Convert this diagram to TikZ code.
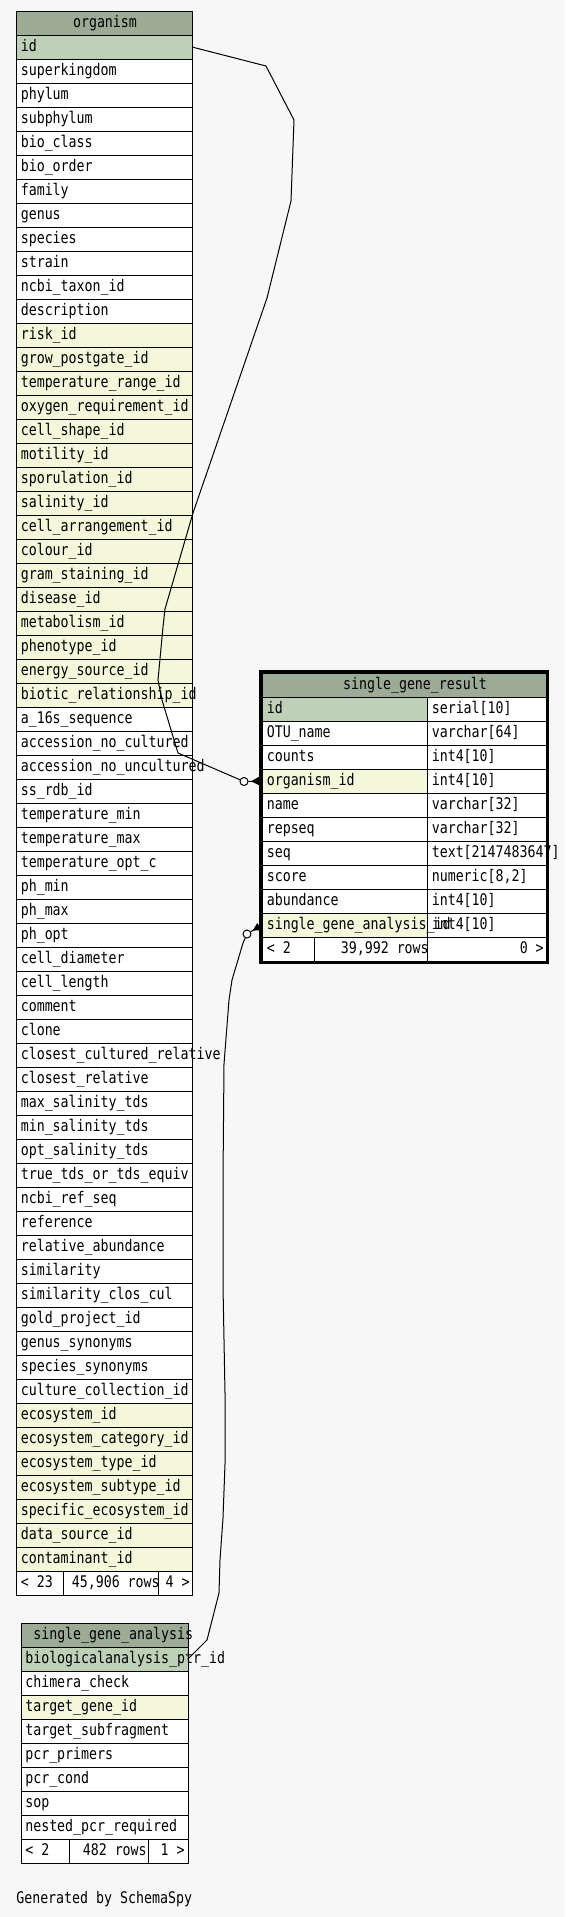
\documentclass[tikz,border=0pt]{standalone}
\usepackage{fontspec}
\newfontfamily\schemafont[FakeStretch=0.83]{DejaVu Sans Mono}
\usetikzlibrary{arrows.meta}
\definecolor{headcolor}{HTML}{9BAB96}
\definecolor{keycolor}{HTML}{BED1B8}
\definecolor{indexcolor}{HTML}{F4F7DA}
\definecolor{bgcolor}{HTML}{F7F7F7}
\begin{document}
\begin{tikzpicture}[x=0.75pt,y=-0.75pt,font=\schemafont\fontsize{12}{14}\selectfont,
    cell/.style={draw,line width=0.75pt,inner sep=0pt,outer sep=0pt,minimum height=18pt,minimum width=#1},
    colname/.style={anchor=base west,inner sep=0pt},
    rcolname/.style={anchor=base east,inner sep=0pt},
    link/.style={line width=0.75pt},
    hollow/.style={circle,draw,fill=white,line width=0.75pt,minimum size=6pt,inner sep=0pt},
    foot/.style={link,-{Triangle[reversed,length=6pt,width=6pt]},shorten >=2.25pt}]
        \fill[bgcolor] (0,0) rectangle (565,1917);
        \node[cell=132pt,fill=headcolor] (org) at (104,23) {};
        \node[anchor=base,inner sep=0pt] at (105,27) {organism};
        \foreach \col [count=\i] in {id,superkingdom,phylum,subphylum,bio\_class,bio\_order,family,genus,species,strain,ncbi\_taxon\_id,description,risk\_id,grow\_postgate\_id,temperature\_range\_id,oxygen\_requirement\_id,cell\_shape\_id,motility\_id,sporulation\_id,salinity\_id,cell\_arrangement\_id,colour\_id,gram\_staining\_id,disease\_id,metabolism\_id,phenotype\_id,energy\_source\_id,biotic\_relationship\_id,a\_16s\_sequence,accession\_no\_cultured,accession\_no\_uncultured,ss\_rdb\_id,temperature\_min,temperature\_max,temperature\_opt\_c,ph\_min,ph\_max,ph\_opt,cell\_diameter,cell\_length,comment,clone,closest\_cultured\_relative,closest\_relative,max\_salinity\_tds,min\_salinity\_tds,opt\_salinity\_tds,true\_tds\_or\_tds\_equiv,ncbi\_ref\_seq,reference,relative\_abundance,similarity,similarity\_clos\_cul,gold\_project\_id,genus\_synonyms,species\_synonyms,culture\_collection\_id,ecosystem\_id,ecosystem\_category\_id,ecosystem\_type\_id,ecosystem\_subtype\_id,specific\_ecosystem\_id,data\_source\_id,contaminant\_id} {
            \def\rowfill{white}
            \ifnum\i=1 \def\rowfill{keycolor}\fi
            \ifnum\i>12 \ifnum\i<29 \def\rowfill{indexcolor}\fi\fi
            \ifnum\i>57 \def\rowfill{indexcolor}\fi
            \node[cell=132pt,fill=\rowfill] (org-\i) at (104,23+24*\i) {};
            \node[colname] at (20.5,27+24*\i) {\col};
        }
        \node[cell=35.25pt,fill=white] (org-f1) at (39.5,1583) {};
        \node[cell=71.25pt,fill=white] (org-f2) at (110.5,1583) {};
        \node[cell=25.5pt,fill=white] (org-f3) at (175,1583) {};
        \node[colname] at (20.5,1587) {< 23};
        \node[rcolname] at (160,1587) {45,906 rows};
        \node[rcolname] at (190,1587) {4 >};
        \node[cell=213pt,fill=headcolor] (sgr) at (404,685) {};
        \node[anchor=base,inner sep=0pt] at (415,689) {single\_gene\_result};
        \foreach \col/\type [count=\i] in {id/serial[10],OTU\_name/varchar[64],counts/int4[10],organism\_id/int4[10],name/varchar[32],repseq/varchar[32],seq/text[2147483647],{score/numeric[8,2]},abundance/int4[10],single\_gene\_analysis\_id/int4[10]} {
            \def\rowfill{white}
            \ifnum\i=1 \def\rowfill{keycolor}\fi
            \ifnum\i=4 \def\rowfill{indexcolor}\fi
            \ifnum\i=10 \def\rowfill{indexcolor}\fi
            \node[cell=123.75pt,fill=\rowfill] (sgr-\i) at (344.5,685+24*\i) {};
            \node[cell=89.25pt,fill=white] (sgr-t\i) at (486.5,685+24*\i) {};
        }
        \foreach \col/\type [count=\i] in {id/serial[10],OTU\_name/varchar[64],counts/int4[10],organism\_id/int4[10],name/varchar[32],repseq/varchar[32],seq/text[2147483647],{score/numeric[8,2]},abundance/int4[10],single\_gene\_analysis\_id/int4[10]} {
            \node[colname] at (431.5,689+24*\i) {\type};
            \node[colname] at (266.5,689+24*\i) {\col};
        }
        \node[cell=39pt,fill=white] (sgr-f1) at (288,949) {};
        \node[cell=84.75pt,fill=white] (sgr-f2) at (370.5,949) {};
        \node[cell=89.25pt,fill=white] (sgr-f3) at (486.5,949) {};
        \node[colname] at (266.5,953) {< 2};
        \node[rcolname] at (429,953) {39,992 rows};
        \node[rcolname] at (544,953) {0 >};
        \node[cell=125.25pt,fill=headcolor] (sga) at (104.5,1635) {};
        \node[colname] at (33,1639) {single\_gene\_analysis};
        \foreach \col [count=\i] in {biologicalanalysis\_ptr\_id,chimera\_check,target\_gene\_id,target\_subfragment,pcr\_primers,pcr\_cond,sop,nested\_pcr\_required} {
            \def\rowfill{white}
            \ifnum\i=1 \def\rowfill{keycolor}\fi
            \ifnum\i=3 \def\rowfill{indexcolor}\fi
            \node[cell=125.25pt,fill=\rowfill] (sga-\i) at (104.5,1635+24*\i) {};
            \node[colname] at (25,1639+24*\i) {\col};
        }
        \node[cell=36pt,fill=white] (sga-f1) at (45,1851) {};
        \node[cell=59.25pt,fill=white] (sga-f2) at (108.5,1851) {};
        \node[cell=30pt,fill=white] (sga-f3) at (168,1851) {};
        \node[colname] at (25,1855) {< 2};
        \node[rcolname] at (147,1855) {482 rows};
        \node[rcolname] at (185,1855) {1 >};
        \node[colname] (gen) at (16,1903) {Generated by SchemaSpy};
        \node[hollow] (c1) at (244,781.5) {};
        \node[hollow] (c2) at (247,934) {};
        \draw[link] (org-1.east) -- (266,66) -- (294,120) -- (291,201) -- (267,298) -- (193,513) -- (165,609) -- (163,627) -- (158,680) -- (162,700) -- (178,753) -- (c1);
        \draw[foot] (c1) -- (sgr-4.west);
        \draw[link] (sga-1.east) -- (207,1640) -- (219,1593) -- (220,1560) -- (223,1518) -- (225,1464) -- (225,1393) -- (223,1286) -- (223,1179) -- (224,1064) -- (229,1000) -- (232,980) -- (243,943) -- (c2);
        \draw[foot] (c2) -- (sgr-10.west);
        \draw[line width=2.25pt] (260.5,671.5) rectangle (547.5,962.5);
    \end{tikzpicture}
\end{document}
